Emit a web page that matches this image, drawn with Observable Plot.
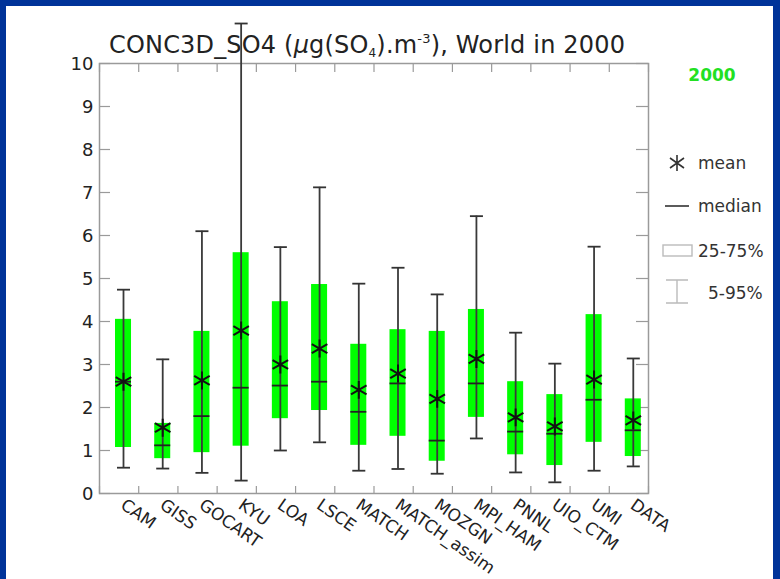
<!DOCTYPE html>
<html><head><meta charset="utf-8">
<script src="https://cdn.jsdelivr.net/npm/d3@7"></script>
<script src="https://cdn.jsdelivr.net/npm/@observablehq/plot@0.6"></script>
<style>
html,body{margin:0;padding:0;}
body{width:780px;height:579px;background:#003399;position:relative;overflow:hidden;font-family:"DejaVu Sans",sans-serif;}
#panel{position:absolute;left:6px;top:6px;width:767px;height:573px;background:#fff;}
#deco{position:absolute;left:0;top:0;}
#chart{position:absolute;left:0;top:0;}
</style></head><body>
<div id="panel"></div>
<svg id="deco" width="780" height="579" font-family="DejaVu Sans, sans-serif">
  <text x="367" y="53" text-anchor="middle" font-size="24" fill="#222" textLength="516" lengthAdjust="spacing">CONC3D_SO4 (<tspan font-style="italic">μ</tspan>g(SO<tspan font-size="12" dy="4">4</tspan><tspan dy="-4">).m</tspan><tspan font-size="13" dy="-10">-3</tspan><tspan dy="10">), World in 2000</tspan></text>
  <text x="712" y="81" text-anchor="middle" font-weight="bold" font-size="17" fill="#22e022">2000</text>
  <g stroke="#333" stroke-width="1.6" fill="none">
    <path d="M677,155V171M670,158L684,168M670,168L684,158"/>
    <path d="M665,206H689"/>
  </g>
  <g stroke="#bbb" stroke-width="1.4" fill="none">
    <rect x="663" y="245" width="29" height="11"/>
    <path d="M677,280V303M666,280H688M666,303H688"/>
  </g>
  <g font-size="17" fill="#333">
    <text x="698" y="169">mean</text>
    <text x="698" y="212">median</text>
    <text x="698" y="257">25-75%</text>
    <text x="708" y="299">5-95%</text>
  </g>
</svg>
<div id="chart"></div>
<script>
const models = ["CAM","GISS","GOCART","KYU","LOA","LSCE","MATCH","MATCH_assim","MOZGN","MPI_HAM","PNNL","UIO_CTM","UMI","DATA"];
const p05    = [0.60, 0.58, 0.48, 0.30, 1.00, 1.19, 0.53, 0.57, 0.46, 1.28, 0.49, 0.26, 0.53, 0.63];
const p25    = [1.07, 0.81, 0.95, 1.10, 1.74, 1.93, 1.12, 1.33, 0.75, 1.77, 0.90, 0.65, 1.19, 0.86];
const median = [2.60, 1.12, 1.80, 2.46, 2.51, 2.60, 1.90, 2.56, 1.23, 2.56, 1.44, 1.39, 2.18, 1.47];
const mean   = [2.60, 1.53, 2.63, 3.79, 3.00, 3.37, 2.41, 2.79, 2.20, 3.13, 1.77, 1.56, 2.65, 1.70];
const p75    = [4.05, 1.63, 3.77, 5.60, 4.46, 4.86, 3.47, 3.81, 3.77, 4.28, 2.60, 2.30, 4.16, 2.20];
const p95    = [4.74, 3.12, 6.10, 10.93, 5.73, 7.12, 4.88, 5.25, 4.63, 6.45, 3.74, 3.02, 5.74, 3.14];
const yTicks = [0,1,2,3,4,5,6,7,8,9,10];

const data = models.map((m, i) => ({model: m, i, p05: p05[i], p25: p25[i], median: median[i], mean: mean[i], p75: p75[i], p95: p95[i]}));

const W = 780, H = 579, ML = 99, MR = 132, MT = 63, MB = 86;
const FW = W - ML - MR, FH = H - MT - MB;
const center = d => d.i + 0.612;
const lo = d => d.i, hi = d => d.i + 1;
const axisColor = "#9a9a9a";

const chart = Plot.plot({
  width: W, height: H,
  marginLeft: ML, marginRight: MR, marginTop: MT, marginBottom: MB,
  x: {domain: [0, models.length], axis: null},
  y: {domain: [0, 10], axis: null},
  style: {background: "transparent", fontFamily: "'DejaVu Sans', sans-serif", color: "#222", overflow: "visible"},
  marks: [
    Plot.frame({stroke: axisColor, strokeWidth: 1.5}),
    Plot.tickY(yTicks, {y: d => d, insetRight: FW - 11, stroke: axisColor, strokeWidth: 1.2}),
    Plot.tickY(yTicks, {y: d => d, insetLeft: FW - 12, stroke: axisColor, strokeWidth: 1.2}),
    Plot.tickX(d3.range(models.length + 1), {x: d => d, insetTop: FH - 7, stroke: axisColor, strokeWidth: 1.2}),
    Plot.tickX(d3.range(models.length + 1), {x: d => d, insetBottom: FH - 9, stroke: axisColor, strokeWidth: 1.2}),
    Plot.text(yTicks, {y: d => d, text: d => String(d), frameAnchor: "left", textAnchor: "end", dx: -6, dy: 1, fontSize: 18, fill: "#222"}),
    Plot.rect(data, {x1: lo, x2: hi, y1: "p25", y2: "p75", insetLeft: 16, insetRight: 7.2, fill: "#00ff00"}),
    Plot.ruleX(data, {x: center, y1: "p05", y2: "p95", stroke: "#3a3a3a", strokeWidth: 1.8}),
    Plot.ruleY(data, {y: "p05", x1: lo, x2: hi, insetLeft: 18, insetRight: 8.2, stroke: "#333", strokeWidth: 1.8}),
    Plot.ruleY(data, {y: "p95", x1: lo, x2: hi, insetLeft: 18, insetRight: 8.2, stroke: "#333", strokeWidth: 1.8}),
    Plot.ruleY(data, {y: "median", x1: lo, x2: hi, insetLeft: 16, insetRight: 7.2, stroke: "#222", strokeWidth: 1.8}),
    Plot.dot(data, {x: center, y: "mean", symbol: "asterisk", r: 8.5, stroke: "#111", strokeWidth: 2}),
    Plot.text(data, {x: center, text: "model", frameAnchor: "bottom", dx: -4, dy: 14, rotate: 35, textAnchor: "start", fontSize: 17, fill: "#222"})
  ]
});
document.getElementById("chart").appendChild(chart);
</script>
</body></html>
